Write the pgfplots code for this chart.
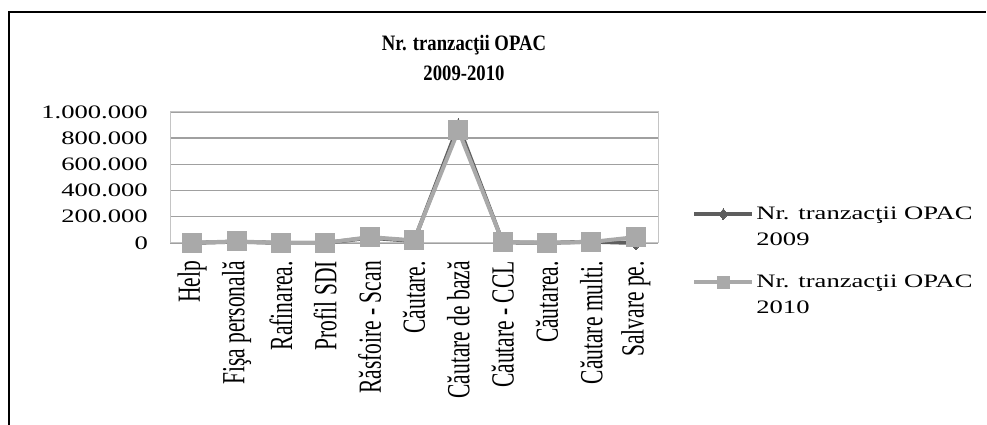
\documentclass[border=0pt]{standalone}
\usepackage{fontspec}
\setmainfont{Liberation Serif}
\newfontfamily\wide{Liberation Serif}[FakeStretch=1.4]
\usepackage{graphicx}
\usepackage{pgfplots}
\pgfplotsset{compat=1.18}

\definecolor{serA}{HTML}{5E5E5E}
\definecolor{serB}{HTML}{A9A9A9}
\definecolor{gridc}{HTML}{A0A0A0}
\definecolor{boxc}{HTML}{C4C4C4}

% rotated labels: widen the glyph height, as in the reference
\newcommand{\vl}[1]{\scalebox{1}[1.5]{#1}}

\begin{document}
\begin{tikzpicture}
\path[use as bounding box] (0pt,0pt) rectangle (987pt,425pt);
\draw[black,line width=2pt] (9pt,0pt) -- (9pt,413pt) -- (986pt,413pt);
\node[font=\bfseries\fontsize{22}{30}\selectfont,align=center] at (464pt,367pt)
  {\scalebox{0.85}[1]{Nr. tranzacţii OPAC}\\\scalebox{0.85}[1]{2009-2010}};

\begin{axis}[
  at={(170pt,182pt)}, anchor=south west,
  scale only axis, width=488pt, height=131pt,
  xmin=-0.5, xmax=10.5, ymin=0, ymax=1000000,
  xtick={0,...,10},
  xticklabels={\vl{Help},\vl{Fişa personală},\vl{Rafinarea.},\vl{Profil SDI},
    \vl{Răsfoire - Scan},\vl{Căutare.},\vl{Căutare de bază},\vl{Căutare - CCL},
    \vl{Căutarea.},\vl{Căutare multi.},\vl{Salvare pe.}},
  xticklabel style={rotate=90,anchor=east,inner sep=0pt,
    font=\fontsize{21.5}{22}\selectfont},
  xticklabel shift=18pt,
  ytick={0,200000,400000,600000,800000,1000000},
  scaled y ticks=false,
  yticklabel style={font=\wide\fontsize{19}{20}\selectfont,inner sep=0pt,
    /pgf/number format/fixed,/pgf/number format/1000 sep={.},
    /pgf/number format/assume math mode=true},
  yticklabel shift=22pt,
  major tick length=0pt,
  ymajorgrids, grid style={gridc,line width=1.4pt},
  axis line style={boxc,line width=1pt},
  clip=false,
  legend style={at={(1.07,0.29)},anchor=north west,draw=none,fill=none,
    font=\wide\fontsize{19}{26}\selectfont,cells={align=left},
    row sep=24pt,inner sep=0pt},
  legend cell align=left,
  legend image code/.code={
    \draw[mark repeat=2,mark phase=2,#1] plot coordinates {(0pt,13pt) (29pt,13pt) (58pt,13pt)};
    \path[draw=none,fill=none] (0pt,-20pt) -- (0pt,20pt);},
]
\addplot[serA,line width=4pt,mark=diamond*,mark size=7pt,
  mark options={solid,fill=serA,draw=serA,line width=0pt},
  legend image post style={mark size=5.5pt}]
  coordinates {(0,1000)(1,10000)(2,500)(3,500)(4,40000)(5,15000)
               (6,895000)(7,5000)(8,1000)(9,10000)(10,0)};
\addlegendentry{Nr. tranzacţii OPAC\\2009}
\addplot[serB,line width=4pt,mark=square*,mark size=9.5pt,
  mark options={solid,fill=serB,draw=serB,line width=0pt},
  legend image post style={mark size=6pt}]
  coordinates {(0,2000)(1,12000)(2,1000)(3,1000)(4,45000)(5,20000)
               (6,860000)(7,8000)(8,2000)(9,8000)(10,45000)};
\addlegendentry{Nr. tranzacţii OPAC\\2010}
\end{axis}
\end{tikzpicture}
\end{document}
